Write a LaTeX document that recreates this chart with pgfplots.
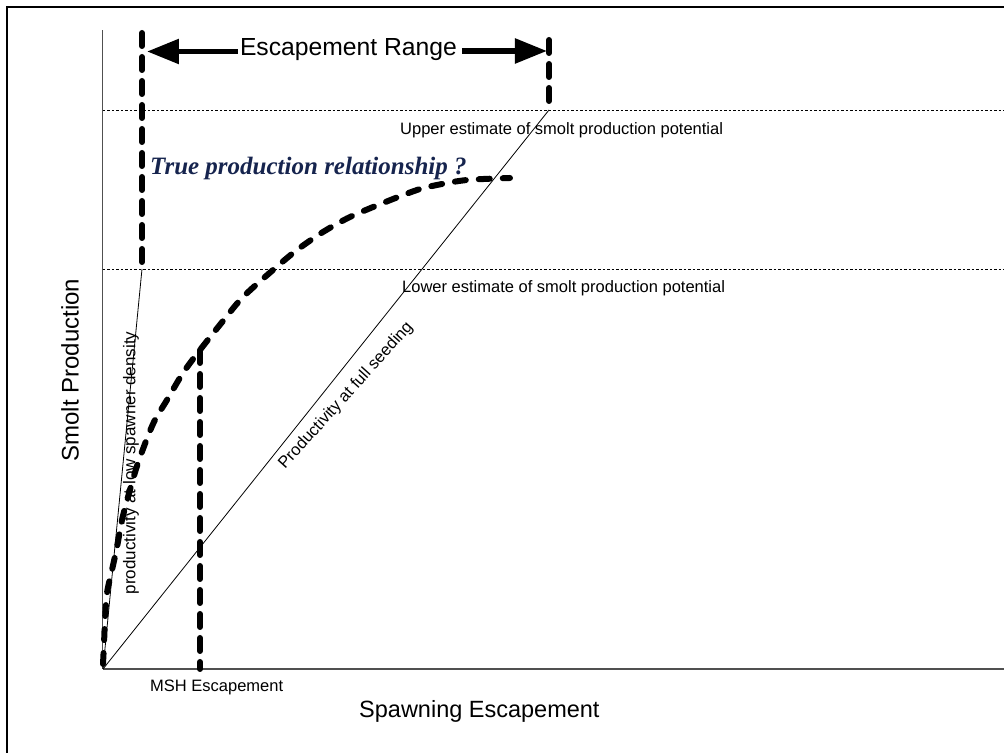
\documentclass[border=0pt]{standalone}
\usepackage{pgfplots}
\pgfplotsset{compat=1.18}
\usetikzlibrary{arrows.meta}
\usepackage{fontspec}
\setmainfont{Liberation Sans}
\newfontfamily\tnr{Liberation Serif}
\definecolor{navy}{RGB}{22,36,78}
\definecolor{axgray}{RGB}{80,80,80}
\newcommand{\fs}[1]{\fontsize{#1bp}{#1bp}\selectfont}

\begin{document}
\begin{tikzpicture}
\begin{axis}[
	at={(0,0)}, anchor=south west,
	scale only axis,
	width=1004bp, height=753bp,
	xmin=-103, xmax=901,
	ymin=-84, ymax=669,
	hide axis,
	clip=false]
% frame (cut at right and bottom)
\addplot[black, line width=2bp] coordinates {(-95.5,-84) (-95.5,661.5) (901,661.5)};
% axes
\addplot[axgray, line width=1bp] coordinates {(0,0) (0,639)};
\addplot[axgray, line width=1.8bp] coordinates {(0,0) (901,0)};
% estimate levels
\addplot[black, line width=0.9bp, dash pattern=on 2.5bp off 2bp] coordinates {(0,559) (901,559)};
\addplot[black, line width=0.9bp, dash pattern=on 2.5bp off 2bp] coordinates {(0,400) (901,400)};
% productivity lines
\addplot[black, line width=0.8bp] coordinates {(0,0) (39,400)};
\addplot[black, line width=0.8bp] coordinates {(0,0) (446,559)};
% range and MSH markers
\addplot[black, line width=6bp, line cap=round, dash pattern=on 13bp off 11bp] coordinates {(39,636) (39,400)};
\addplot[black, line width=6bp, line cap=round, dash pattern=on 13bp off 11bp] coordinates {(446,629) (446,559)};
\addplot[black, line width=6bp, line cap=round, dash pattern=on 13bp off 11bp] coordinates {(97,319) (97,0)};
% true production relationship
\addplot[black, line width=6bp, line cap=round, dash pattern=on 11bp off 13bp, smooth, tension=0.5] coordinates {
	(0,5) (1,25) (2,49) (4,76) (9,99) (14,122) (19,149) (25,172) (35,206)
	(50,245) (64,269) (80,296) (97,319) (120,348) (140,372) (170,399)
	(194,419) (220,437) (247,452) (280,466) (314,479) (334,484) (364,489) (407,491)
};
% escapement range arrows
\addplot[black, line width=5.5bp, -{Triangle[length=32bp,width=24bp]}] coordinates {(135,617.5) (44,617.5)};
\addplot[black, line width=5.5bp, -{Triangle[length=32bp,width=24bp]}] coordinates {(359,618) (444,618)};
% texts
\node[anchor=base, inner sep=0pt] at (axis cs:245.5,613) {\fs{24.7}Escapement Range};
\node[anchor=base west, inner sep=0pt] at (axis cs:297,534) {\fs{16.5}Upper estimate of smolt production potential};
\node[anchor=base west, inner sep=0pt] at (axis cs:299,376) {\fs{16.5}Lower estimate of smolt production potential};
\node[anchor=base west, inner sep=0pt, text=navy] at (axis cs:47,494) {\tnr\bfseries\itshape\fs{25}True production relationship ?};
\node[rotate=90, inner sep=0pt] at (axis cs:28,206) {\fs{17}productivity at low spawner density};
\node[rotate=48, anchor=base west, inner sep=0pt] at (axis cs:182,199) {\fs{16.5}Productivity at full seeding};
\node[anchor=base west, inner sep=0pt] at (axis cs:47,-23) {\fs{16.5}MSH Escapement};
\node[anchor=base west, inner sep=0pt] at (axis cs:256,-49) {\fs{23.5}Spawning Escapement};
\node[rotate=90, inner sep=0pt] at (axis cs:-33,299) {\fs{24}Smolt Production};
\end{axis}
\pgfresetboundingbox
\useasboundingbox (0,0) rectangle (1004bp,753bp);
\end{tikzpicture}
\end{document}
